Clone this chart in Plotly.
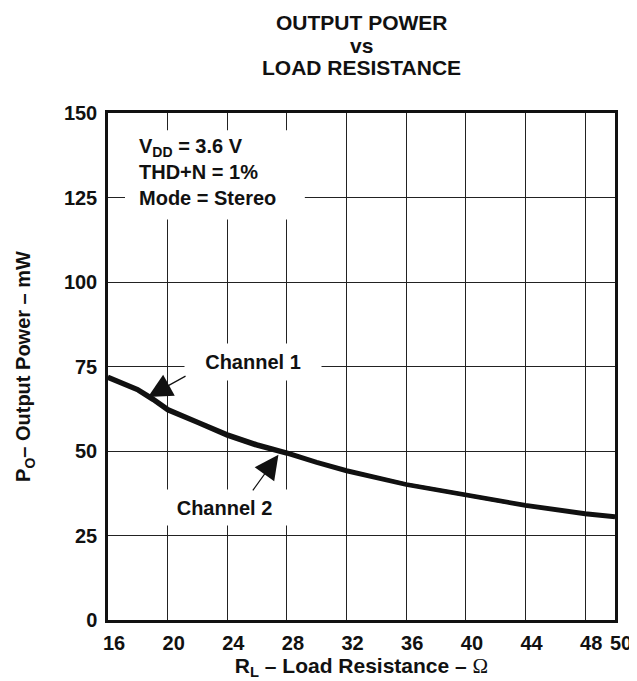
import plotly.graph_objects as go

# ---- data ----
resistance = [16, 17, 18, 19, 20, 22, 24, 26, 28, 30, 32, 36, 40, 44, 48, 50]
power_ch1 = [72.0, 70.3, 68.3, 65.6, 62.5, 58.7, 55.0, 52.0, 49.6, 46.8, 44.3, 40.2, 37.0, 34.0, 31.6, 30.7]
power_ch2 = [71.6, 69.9, 67.9, 65.1, 62.0, 58.3, 54.5, 51.5, 49.2, 46.5, 44.0, 40.0, 36.8, 33.8, 31.3, 30.4]
x_ticks = [16, 20, 24, 28, 32, 36, 40, 44, 48, 50]
y_ticks = [0, 25, 50, 75, 100, 125, 150]
series_names = ["Channel 1", "Channel 2"]
title_lines = ["OUTPUT POWER", "vs", "LOAD RESISTANCE"]

FONT = "Liberation Sans, Arial, Helvetica, sans-serif"
BLACK = "#111111"

# page body has an 8px margin; the figure is sized so the plot lands where the reference has it
W, H = 629, 673
ML, MR, MT, MB = 100, 22, 105, 61
PLOT_H = H - MT - MB

fig = go.Figure()
for name, vals in zip(series_names, [power_ch1, power_ch2]):
    fig.add_trace(go.Scatter(x=resistance, y=vals, mode="lines", name=name,
                             line=dict(color=BLACK, width=4), showlegend=False,
                             hoverinfo="x+y+name"))

axis_common = dict(showline=True, linecolor=BLACK, linewidth=2.5, mirror=True,
                   showgrid=True, gridcolor="#222222", gridwidth=1, zeroline=False,
                   automargin=False,
                   ticks="", tickfont=dict(family=FONT, size=20, color=BLACK, weight="bold"))

fig.update_layout(
    width=W, height=H,
    margin=dict(l=ML, r=MR, t=MT, b=MB),
    paper_bgcolor="white", plot_bgcolor="white",
    xaxis=dict(range=[16, 50], tickvals=x_ticks, ticktext=[str(v) for v in x_ticks],
               ticklabelshift=6, ticklabelstandoff=3,
               title=dict(text="R<sub>L</sub> – Load Resistance – <span style=\"font-family:'Liberation Serif',serif;font-weight:normal\">Ω</span>",
                          font=dict(family=FONT, size=21, color=BLACK, weight="bold"),
                          standoff=4),
               **axis_common),
    yaxis=dict(range=[0, 150], tickvals=y_ticks, ticktext=[str(v) for v in y_ticks],
               ticklabelstandoff=4,
               title=dict(text="P<sub>O</sub>– Output Power – mW",
                          font=dict(family=FONT, size=20, color=BLACK, weight="bold"),
                          standoff=28),
               **axis_common),
)

# title, three centred lines (reference line pitch is tighter than <br>)
title_font = dict(family=FONT, size=21, color=BLACK, weight="bold")
for line, px_center in zip(title_lines, [14.5, 37.5, 59.5]):
    fig.add_annotation(text=line, xref="paper", yref="paper", x=0.5,
                       y=1 + (MT - px_center) / PLOT_H, xanchor="center", yanchor="middle",
                       showarrow=False, font=title_font)

# white box behind the test conditions
fig.add_shape(type="rect", xref="x", yref="y", x0=17.14, x1=29.2, y0=118.5, y1=144.9,
              fillcolor="white", line=dict(width=0), layer="above")

ann_font = dict(family=FONT, size=20, color=BLACK, weight="bold")
fig.add_annotation(x=17.95, y=144.0, xref="x", yref="y", xanchor="left", yanchor="top",
                   align="left", showarrow=False, font=ann_font,
                   text="V<sub>DD</sub> = 3.6 V<br>THD+N = 1%<br>Mode = Stereo")

# channel labels (white boxes interrupt the grid)
fig.add_annotation(x=25.7, y=76.3, xref="x", yref="y", showarrow=False,
                   text="Channel 1", font=ann_font, bgcolor="white",
                   width=136, height=36, borderpad=0)
fig.add_annotation(x=23.8, y=33.4, xref="x", yref="y", showarrow=False,
                   text="Channel 2", font=ann_font, bgcolor="white",
                   width=135, height=35, borderpad=0)

# arrows
fig.add_annotation(x=18.68, y=66.0, ax=21.3, ay=72.4, xref="x", yref="y",
                   axref="x", ayref="y", text="", showarrow=True,
                   arrowhead=2, arrowsize=4, arrowwidth=1.2, arrowcolor=BLACK, standoff=0)
fig.add_annotation(x=27.43, y=48.9, ax=25.64, ay=37.9, xref="x", yref="y",
                   axref="x", ayref="y", text="", showarrow=True,
                   arrowhead=2, arrowsize=4, arrowwidth=1.2, arrowcolor=BLACK, standoff=0)

fig.write_html("out.html")
